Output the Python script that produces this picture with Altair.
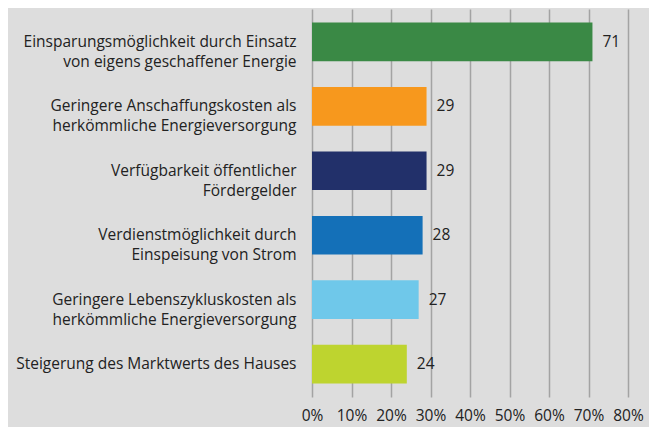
import altair as alt
import pandas as pd

categories = [
    "Einsparungsmöglichkeit durch Einsatz|von eigens geschaffener Energie",
    "Geringere Anschaffungskosten als|herkömmliche Energieversorgung",
    "Verfügbarkeit öffentlicher|Fördergelder",
    "Verdienstmöglichkeit durch|Einspeisung von Strom",
    "Geringere Lebenszykluskosten als|herkömmliche Energieversorgung",
    "Steigerung des Marktwerts des Hauses",
]
values = [71, 29, 29, 28, 27, 24]
colors = ["#3a8945", "#f7981d", "#22306a", "#1470b8", "#6fc8ea", "#bed42f"]
x_ticks = [0, 10, 20, 30, 40, 50, 60, 70, 80]

df = pd.DataFrame({"cat": categories, "val": values, "color": colors})

FONT = "Open Sans"
FS = 15.5

y_enc = alt.Y(
    "cat:N",
    sort=categories,
    scale=alt.Scale(paddingInner=0.4, paddingOuter=0.21),
    axis=alt.Axis(
        title=None,
        domain=False,
        ticks=False,
        grid=False,
        labelPadding=16,
        labelFontSize=FS,
        labelFont=FONT,
        labelColor="#222222",
        labelLineHeight=20,
        labelLimit=0,
        labelExpr="split(datum.label, '|')",
    ),
)

x_enc = alt.X(
    "val:Q",
    scale=alt.Scale(domain=[0, 80], nice=False),
    axis=alt.Axis(
        title=None,
        values=x_ticks,
        domain=False,
        ticks=False,
        grid=True,
        gridColor="#a3a3a3",
        gridWidth=1.5,
        labelPadding=11,
        labelFontSize=FS,
        labelFont=FONT,
        labelColor="#222222",
        labelOverlap=False,
        labelBound=False,
        labelFlush=False,
        labelExpr="datum.value + '%'",
    ),
)

base = alt.Chart(df).encode(x=x_enc, y=y_enc)

bars = base.mark_bar().encode(color=alt.Color("color:N", scale=None))

labels = base.mark_text(
    align="left", baseline="middle", dx=10, fontSize=FS, font=FONT, color="#222222"
).encode(text="val:Q")

chart = (
    alt.layer(bars, labels)
    .properties(
        width=316,
        height=388,
        background="#dddddd",
        padding={"left": 304, "top": 1, "right": 21, "bottom": 30},
        autosize=alt.AutoSizeParams(type="none"),
    )
    .configure_view(stroke=None)
)

chart.save("out.html", embed_options={"renderer": "svg", "actions": False})
